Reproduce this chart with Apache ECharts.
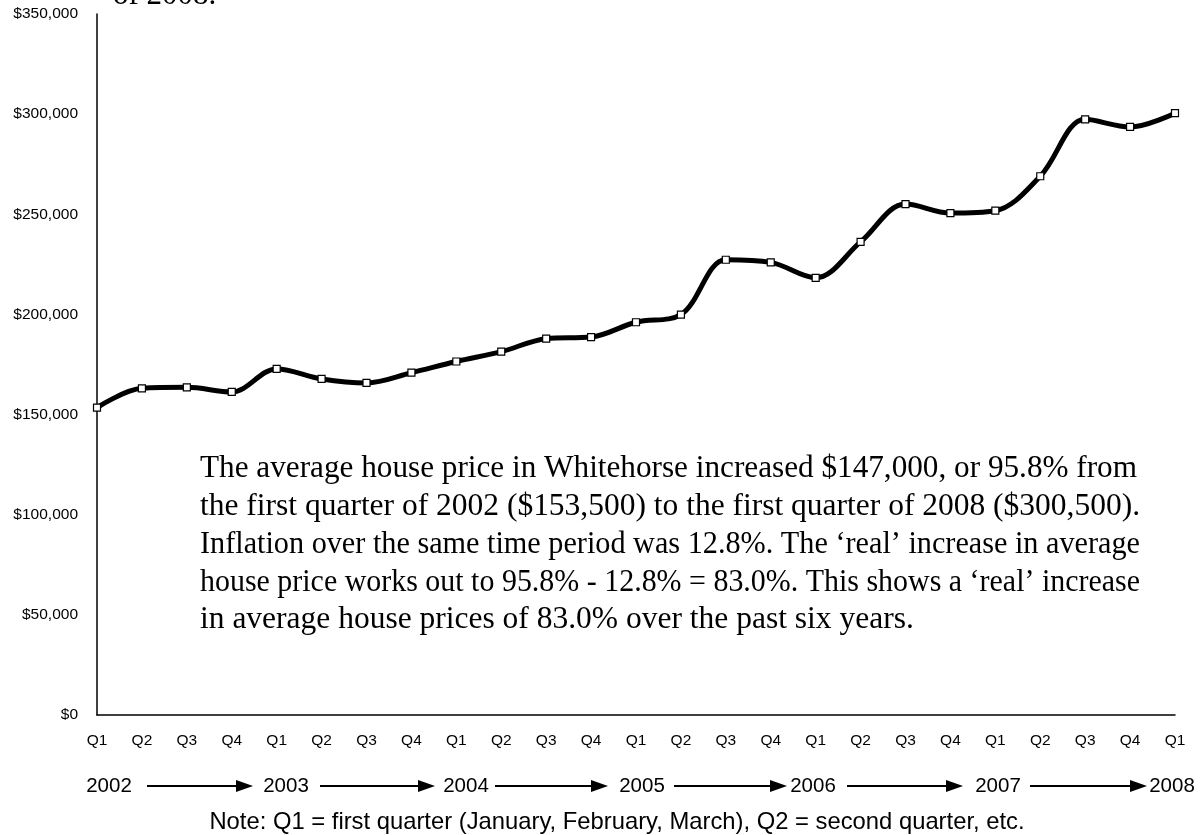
<!doctype html>
<html>
<head>
<meta charset="utf-8">
<title>Whitehorse average house price</title>
<script src="https://cdn.jsdelivr.net/npm/echarts@6/dist/echarts.min.js"></script>
<style>
  html, body { margin: 0; padding: 0; background: #fff; }
  #main { width: 1204px; height: 835px; }
</style>
</head>
<body>
<div id="main"></div>
<script type="text/javascript">
// quarters, Q1 2002 .. Q1 2008
var quarters = ['Q1','Q2','Q3','Q4','Q1','Q2','Q3','Q4','Q1','Q2','Q3','Q4',
                'Q1','Q2','Q3','Q4','Q1','Q2','Q3','Q4','Q1','Q2','Q3','Q4','Q1'];
// average house price ($)
var prices = [153500, 163100, 163600, 161300, 172800, 167800, 165800, 170900,
              176500, 181400, 187900, 188700, 196100, 199900, 227300, 226000,
              218300, 236200, 255100, 250600, 251800, 269000, 297400, 293600, 300500];
var years = ['2002','2003','2004','2005','2006','2007','2008'];
var yTicks = { min: 0, max: 350000, step: 50000 };

var noteLines = [
  'The average house price in Whitehorse increased $147,000, or 95.8% from',
  'the first quarter of 2002 ($153,500) to the first quarter of 2008 ($300,500).',
  'Inflation over the same time period was 12.8%. The \u2018real\u2019 increase in average',
  'house price works out to 95.8% - 12.8% = 83.0%. This shows a \u2018real\u2019 increase',
  'in average house prices of 83.0% over the past six years.'
];

var sans = '"Liberation Sans", Arial, sans-serif';
var serif = '"Liberation Serif", "Times New Roman", serif';

// year row: text centres and arrows (x1 -> x2) between them
var yearX = [109, 286, 466, 642, 813, 998, 1172];
var arrows = [[147, 253], [320, 435], [495, 608], [674, 787], [847, 963], [1030, 1147]];
var rowY = 786;

var graphics = [];
years.forEach(function (y, i) {
  graphics.push({
    type: 'text', x: yearX[i], y: rowY,
    style: { text: y, font: '20.5px ' + sans, fill: '#000', align: 'center', verticalAlign: 'middle' }
  });
});
arrows.forEach(function (a) {
  graphics.push({
    type: 'line',
    shape: { x1: a[0], y1: rowY, x2: a[1] - 14, y2: rowY },
    style: { stroke: '#000', lineWidth: 2 }
  });
  graphics.push({
    type: 'polygon',
    shape: { points: [[a[1] - 17, rowY - 6], [a[1], rowY], [a[1] - 17, rowY + 6]] },
    style: { fill: '#000' }
  });
});
graphics.push({
  type: 'text', x: 617, y: 822,
  style: { text: 'Note: Q1 = first quarter (January, February, March), Q2 = second quarter, etc.',
           font: '23.8px ' + sans, fill: '#000', align: 'center', verticalAlign: 'middle' }
});

// paragraph, justified lines squeezed/stretched to the block width
var paraFont = '31.5px ' + serif;
var ctx = document.createElement('canvas').getContext('2d');
ctx.font = paraFont;
noteLines.forEach(function (t, i) {
  var w = ctx.measureText(t).width;
  var last = i === noteLines.length - 1;
  var target = i === 0 ? 937 : 940;
  graphics.push({
    type: 'text', x: 200, y: 469 + i * 37.8,
    scaleX: last ? 1 : target / w,
    style: { text: t, font: paraFont, fill: '#000', align: 'left', verticalAlign: 'middle' }
  });
});

// clipped tail of a title above the chart
graphics.push({
  type: 'text', x: 113, y: -4.5,
  style: { text: 'of 2008.', font: '31px ' + serif, fill: '#000', align: 'left', verticalAlign: 'middle' }
});

var myChart = echarts.init(document.getElementById('main'));
var option = {
  backgroundColor: '#fff',
  animation: false,
  grid: { left: 97, right: 29, top: 14, bottom: 120 },
  xAxis: {
    type: 'category',
    boundaryGap: false,
    data: quarters,
    axisLine: { lineStyle: { color: '#000', width: 1.5 } },
    axisTick: { show: false },
    axisLabel: { margin: 18, color: '#000', fontSize: 15.5, fontFamily: sans, interval: 0 }
  },
  yAxis: {
    type: 'value',
    min: yTicks.min, max: yTicks.max, interval: yTicks.step,
    axisLine: { show: true, lineStyle: { color: '#000', width: 1.5 } },
    axisTick: { show: false },
    splitLine: { show: false },
    axisLabel: {
      margin: 19, color: '#000', fontSize: 15.5, fontFamily: sans,
      formatter: function (v) { return '$' + v.toLocaleString('en-US'); }
    }
  },
  series: [{
    type: 'line',
    data: prices,
    smooth: 0.35,
    symbol: 'rect',
    symbolSize: 7,
    showAllSymbol: true,
    lineStyle: { color: '#000', width: 5 },
    itemStyle: { color: '#fff', borderColor: '#000', borderWidth: 1.2 }
  }],
  graphic: graphics
};
myChart.setOption(option);
</script>
</body>
</html>
